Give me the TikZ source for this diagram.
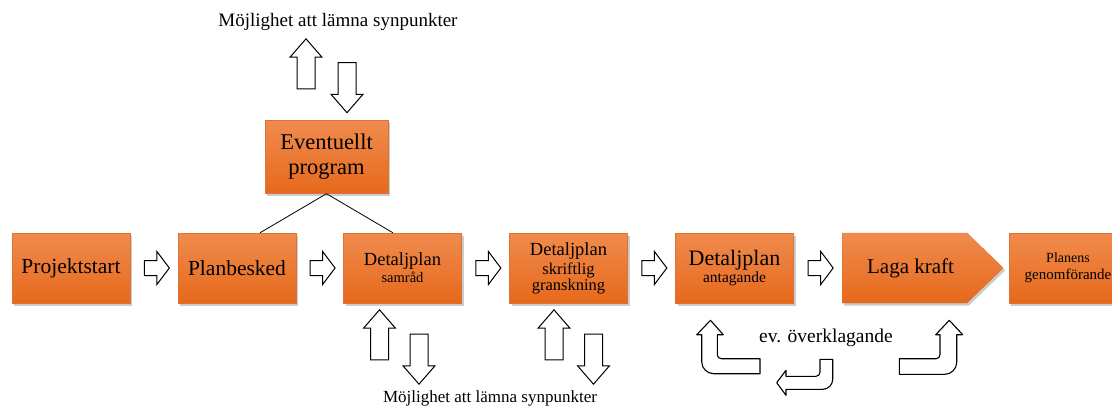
\documentclass[tikz,border=0pt]{standalone}
\usepackage{fontspec}
\setmainfont{Liberation Serif}
\usetikzlibrary{shapes.arrows,shapes.symbols,shadows,calc}
\definecolor{boxtop}{HTML}{F08B4E}
\definecolor{boxbot}{HTML}{E6691B}
\definecolor{boxedge}{HTML}{DC7436}
\newcommand{\txtsize}[2]{\fontsize{#1}{#2}\selectfont}

\begin{document}
\begin{tikzpicture}[x=1pt,y=-1pt,
	box/.style={rectangle,top color=boxtop,bottom color=boxbot,draw=boxedge,line width=.4pt,
		minimum width=118pt,minimum height=70pt,inner sep=1pt,align=center,
		execute at begin node=\rmfamily,
		drop shadow={shadow xshift=2pt,shadow yshift=-2.5pt,opacity=.4}},
	rarrow/.style={single arrow,draw=black,fill=white,line width=1pt,single arrow tip angle=106,
		single arrow head extend=9pt,inner xsep=2pt,inner ysep=7pt,minimum height=25pt},
	varrow/.style={single arrow,draw=black,fill=white,line width=1pt,single arrow tip angle=82,
		single arrow head extend=7pt,inner xsep=2pt,inner ysep=8.5pt,minimum height=50pt},
	bent/.style={draw=black,fill=white,line width=1.1pt,line join=round},
	note/.style={inner sep=0pt}]
	\useasboundingbox (0,0) rectangle (1112,410);
	\clip (0,0) rectangle (1112,410);

	% boxes
	\node[box,font=\txtsize{21.5}{24}] (start) at (71,268) {Projektstart};
	\node[box,font=\txtsize{21.5}{24}] (plan) at (237,268) {Planbesked};
	\node[box,font=\txtsize{18.5}{17}] (samrad) at (402.5,268)
		{Detaljplan\\\txtsize{14.5}{17}samråd};
	\node[box,font=\txtsize{18.5}{16}] (gransk) at (568.5,268)
		{Detaljplan\\[3pt]\txtsize{16.5}{16}skriftlig\\[0pt]\txtsize{16.5}{16}granskning};
	\node[box,font=\txtsize{22}{17}] (antag) at (734.5,268)
		{Detaljplan\\\txtsize{15.5}{17}antagande};
	\node[box,signal,signal to=east,signal pointer angle=88,minimum width=161pt,anchor=west,
		font=\txtsize{21}{24}] (laga) at (842,268) {\hspace*{12pt}Laga kraft};
	\node[box,font=\txtsize{14}{17}] (planens) at (1068,268)
		{Planens\\\txtsize{15}{17}genomförande};
	\node[box,minimum width=123pt,minimum height=73pt,font=\txtsize{22.5}{25}] (prog) at (326.5,157)
		{Eventuellt\\program};

	\draw[line width=.8pt] (prog.south) -- ([xshift=23pt]plan.north);
	\draw[line width=.8pt] (prog.south) -- ([xshift=-9.5pt]samrad.north);

	% steps
	\node[rarrow] (s1) at ($(start.east)!.5!(plan.west)$) {};
	\node[rarrow] (s2) at ($(plan.east)!.5!(samrad.west)$) {};
	\node[rarrow] (s3) at ($(samrad.east)!.5!(gransk.west)$) {};
	\node[rarrow] (s4) at ($(gransk.east)!.5!(antag.west)$) {};
	\node[rarrow] (s5) at ($(antag.east)!.5!(laga.west)$) {};

	% synpunkter
	\node[varrow,rotate=90] (pu) at (306,69) {};
	\node[varrow,rotate=-90] (pd) at (347,82.5) {};
	\node[varrow,rotate=90] (su) at (379.5,340) {};
	\node[varrow,rotate=-90] (sd) at (419,354) {};
	\node[varrow,rotate=90] (gu) at (554,340) {};
	\node[varrow,rotate=-90] (gd) at (593.5,354) {};
	\node[note,font=\txtsize{19}{22}] (syntop) at (338,22) {Möjlighet att lämna synpunkter};
	\node[note,font=\txtsize{17}{20}] (synbot) at (490,398) {Möjlighet att lämna synpunkter};

	% overklagande
	\node[note,font=\txtsize{19.5}{22}] (overk) at (826,338) {ev. överklagande};
	\filldraw[bent] (760,358.7) [rounded corners=4] -- (717.3,358.7) [sharp corners] -- (717.3,334.7)
		-- (723.3,334.7) -- (710.5,320.3) -- (696.7,334.7) -- (701.7,334.7)
		[rounded corners=12] -- (701.7,373.7) [sharp corners] -- (760,373.7) -- cycle;
	\filldraw[bent] (820,359.3) -- (832.7,359.3) [rounded corners=10] -- (832.7,389.3)
		[sharp corners] -- (786,389.3) -- (786,395.3) -- (776.7,382.7) -- (786,370.3)
		-- (786,376.3) [rounded corners=4] -- (820,376.3) [sharp corners] -- cycle;
	\filldraw[bent] (899.3,358.7) [rounded corners=4] -- (940,358.7) [sharp corners] -- (940,334.7)
		-- (935.7,334.7) -- (949.3,320.3) -- (962.7,334.7) -- (956.7,334.7)
		[rounded corners=12] -- (956.7,374.3) [sharp corners] -- (899.3,374.3) -- cycle;
\end{tikzpicture}
\end{document}
